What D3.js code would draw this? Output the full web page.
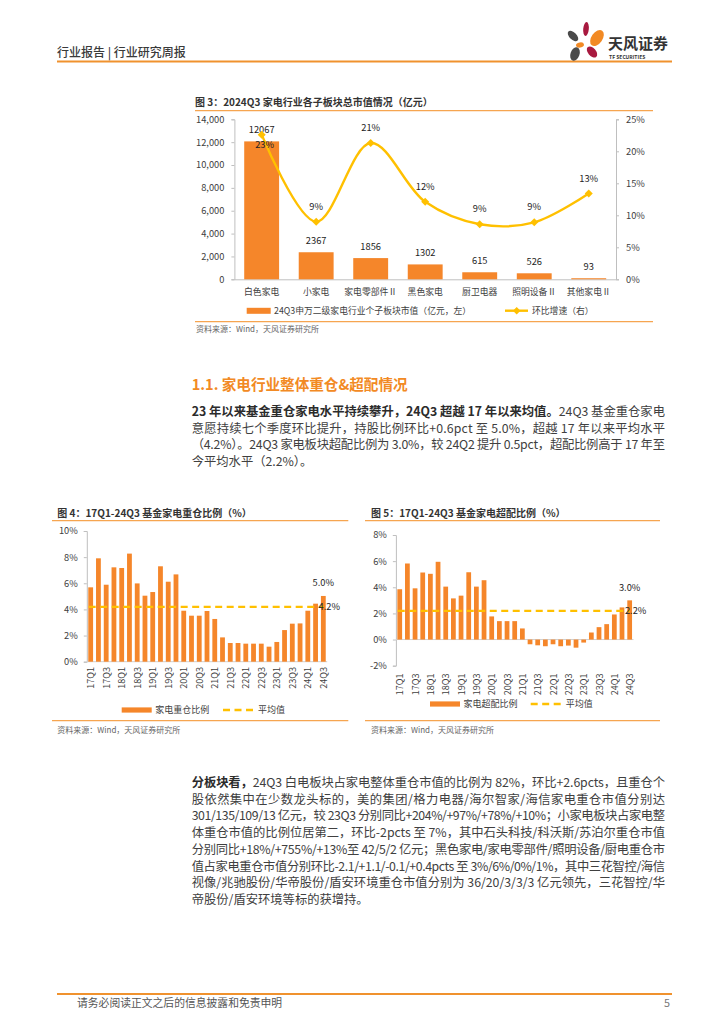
<!DOCTYPE html>
<html><head><meta charset="utf-8">
<script src="https://cdn.jsdelivr.net/npm/d3@7"></script>
<style>
body{margin:0;background:#fff;}
svg text{font-family:"Noto Sans CJK SC","Noto Sans",sans-serif;}
</style></head><body>
<svg id="page" width="724" height="1024"></svg>
<script>
// ---------- Figure 3 data ----------
const sectors = ["白色家电","小家电","家电零部件Ⅱ","黑色家电","厨卫电器","照明设备Ⅱ","其他家电Ⅱ"];
const marketCap = [12067,2367,1856,1302,615,526,93];
const qoqGrowth = [22.6,9.0,21.3,12.1,8.6,8.9,13.4];
const qoqLabels = ["23%","9%","21%","12%","9%","9%","13%"];
const capTicks = [0,2000,4000,6000,8000,10000,12000,14000];
const pctTicks = [0,5,10,15,20,25];

// ---------- Figure 4 / 5 data ----------
const quarters = ["17Q1","17Q2","17Q3","17Q4","18Q1","18Q2","18Q3","18Q4","19Q1","19Q2","19Q3","19Q4",
  "20Q1","20Q2","20Q3","20Q4","21Q1","21Q2","21Q3","21Q4","22Q1","22Q2","22Q3","22Q4",
  "23Q1","23Q2","23Q3","23Q4","24Q1","24Q2","24Q3"];
const heavyRatio = [5.69,7.91,5.89,7.22,7.17,8.27,5.99,5.05,5.33,7.30,6.12,6.68,
  3.90,3.52,3.52,3.88,3.27,1.86,1.43,1.43,1.38,1.38,1.38,1.15,
  1.51,2.42,2.91,2.93,3.90,4.44,5.03];
const heavyAvg = 4.2;
const heavyTicks = [0,2,4,6,8,10];
const overRatio = [3.85,5.82,3.92,5.13,5.03,5.95,4.05,3.15,3.36,5.15,4.05,4.54,
  1.77,1.41,1.41,1.41,0.85,-0.36,-0.44,-0.51,-0.36,-0.51,-0.46,-0.62,
  -0.23,0.54,0.95,1.18,1.92,2.46,3.0];
const overAvg = 2.2;
const overTicks = [-2,0,2,4,6,8];

// ---------- Text ----------
const para1 = [
  [["23 年以来基金重仓家电水平持续攀升，24Q3 超越 17 年以来均值。",true],["24Q3 基金重仓家电",false]],
  [["意愿持续七个季度环比提升，持股比例环比+0.6pct 至 5.0%，超越 17 年以来平均水平",false]],
  [["（4.2%）。24Q3 家电板块超配比例为 3.0%，较 24Q2 提升 0.5pct，超配比例高于 17 年至",false]],
  [["今平均水平（2.2%）。",false]]
];
const para2 = [
  [["分板块看，",true],["24Q3 白电板块占家电整体重仓市值的比例为 82%，环比+2.6pcts，且重仓个",false]],
  [["股依然集中在少数龙头标的，美的集团/格力电器/海尔智家/海信家电重仓市值分别达",false]],
  [["301/135/109/13 亿元，较 23Q3 分别同比+204%/+97%/+78%/+10%；小家电板块占家电整",false]],
  [["体重仓市值的比例位居第二，环比-2pcts 至 7%，其中石头科技/科沃斯/苏泊尔重仓市值",false]],
  [["分别同比+18%/+755%/+13%至 42/5/2 亿元；黑色家电/家电零部件/照明设备/厨电重仓市",false]],
  [["值占家电重仓市值分别环比-2.1/+1.1/-0.1/+0.4pcts 至 3%/6%/0%/1%，其中三花智控/海信",false]],
  [["视像/兆驰股份/华帝股份/盾安环境重仓市值分别为 36/20/3/3/3 亿元领先，三花智控/华",false]],
  [["帝股份/盾安环境等标的获增持。",false]]
];

const ORANGE = "#F28A24";
const BAR = "#F5862A";
const GOLD = "#FFC000";
const AXIS = "#BFBFBF";
const TXT = "#404040";

const svg = d3.select("#page");

// ---------- Header ----------
svg.append("text").attr("x",57).attr("y",56.5).attr("font-size",12).attr("font-weight",500)
  .attr("fill","#3a3a3a").text("行业报告 | 行业研究周报");
svg.append("line").attr("x1",57).attr("x2",672).attr("y1",61.5).attr("y2",61.5)
  .attr("stroke","#F0922E").attr("stroke-width",2);
// logo petals
const logo = svg.append("g");
const petals = [
  {cx:573,cy:36,rx:3.6,ry:6.5,r:-45,c:"#4a4a4a"},
  {cx:586,cy:29,rx:2.8,ry:7,r:5,c:"#A8193F"},
  {cx:597,cy:38,rx:5.5,ry:9,r:35,c:ORANGE},
  {cx:580,cy:45,rx:4,ry:2.6,r:-10,c:ORANGE},
  {cx:575,cy:54,rx:4.5,ry:7,r:20,c:"#4a4a4a"},
  {cx:592,cy:52,rx:4,ry:6.5,r:-40,c:"#A8193F"}
];
logo.selectAll("ellipse").data(petals).join("ellipse")
  .attr("transform",d=>`translate(${d.cx},${d.cy}) rotate(${d.r})`)
  .attr("rx",d=>d.rx).attr("ry",d=>d.ry).attr("fill",d=>d.c);
svg.append("text").attr("x",608).attr("y",49).attr("font-size",15).attr("font-weight",700)
  .attr("fill","#333").text("天风证券");
svg.append("text").attr("x",609).attr("y",58.5).attr("font-size",5).attr("font-weight",700)
  .attr("fill","#333").text("TF SECURITIES");

// ---------- Footer ----------
svg.append("line").attr("x1",57).attr("x2",672).attr("y1",994).attr("y2",994)
  .attr("stroke","#F0922E").attr("stroke-width",2.2);
svg.append("text").attr("x",77).attr("y",1007).attr("font-size",10.8).attr("fill","#555")
  .text("请务必阅读正文之后的信息披露和免责申明");
svg.append("text").attr("x",664).attr("y",1007).attr("font-size",10.8).attr("fill","#777").text("5");

// helper for separator lines
function sep(x1,x2,y){
  svg.append("line").attr("x1",x1).attr("x2",x2).attr("y1",y).attr("y2",y)
    .attr("stroke","#F6A550").attr("stroke-width",1.2);
}

// ---------- Figure 3 ----------
svg.append("text").attr("x",195).attr("y",106).attr("font-size",10).attr("font-weight",700)
  .attr("fill","#333").text("图 3：2024Q3 家电行业各子板块总市值情况（亿元）");
sep(195,653,110.7);
sep(195,653,321.7);
svg.append("text").attr("x",196).attr("y",332).attr("font-size",8).attr("fill","#666")
  .text("资料来源：Wind，天风证券研究所");

const x3 = d3.scaleBand().domain(sectors).range([234.4,616]).paddingInner(0.36).paddingOuter(0.18);
const yL = d3.scaleLinear().domain([0,14000]).range([279.3,119.3]);
const yR = d3.scaleLinear().domain([0,25]).range([279.3,119.3]);
const g3 = svg.append("g");

const axL = g3.append("g").attr("transform","translate(234.4,0)")
  .call(d3.axisLeft(yL).tickValues(capTicks).tickSize(3).tickPadding(7).tickFormat(d3.format(",")));
const axR = g3.append("g").attr("transform","translate(616,0)")
  .call(d3.axisRight(yR).tickValues(pctTicks).tickSize(3).tickPadding(7).tickFormat(d=>d+"%"));
const axB = g3.append("g").attr("transform","translate(0,279.3)")
  .call(d3.axisBottom(x3).tickSize(0).tickPadding(9));
[axL,axR,axB].forEach(a=>{
  a.selectAll("path,line").attr("stroke",AXIS);
  a.selectAll("text").attr("font-size",9.3).attr("fill",TXT).attr("font-family",'"Noto Sans CJK SC",sans-serif');
});
axB.selectAll("text").attr("font-size",8.8);

g3.selectAll("rect.bar").data(sectors).join("rect").attr("class","bar")
  .attr("x",d=>x3(d)).attr("width",x3.bandwidth())
  .attr("y",(d,i)=>yL(marketCap[i])).attr("height",(d,i)=>yL(0)-yL(marketCap[i]))
  .attr("fill",BAR);
g3.selectAll("text.bv").data(sectors).join("text").attr("class","bv")
  .attr("x",d=>x3(d)+x3.bandwidth()/2).attr("y",(d,i)=>yL(marketCap[i])-8)
  .attr("text-anchor","middle").attr("font-size",9.3).attr("fill","#222")
  .text((d,i)=>marketCap[i]);

const cx3 = d=>x3(d)+x3.bandwidth()/2;
const line3 = d3.line().x((d,i)=>cx3(sectors[i])).y(d=>yR(d)).curve(d3.curveCatmullRom.alpha(0.5));
g3.append("path").attr("d",line3(qoqGrowth)).attr("fill","none").attr("stroke",GOLD).attr("stroke-width",2.4);
g3.selectAll("path.dm").data(qoqGrowth).join("path").attr("class","dm")
  .attr("d",d3.symbol(d3.symbolSquare,32)())
  .attr("transform",(d,i)=>`translate(${cx3(sectors[i])},${yR(d)}) rotate(45)`)
  .attr("fill",GOLD);
g3.selectAll("text.lv").data(qoqGrowth).join("text").attr("class","lv")
  .attr("x",(d,i)=>cx3(sectors[i])+(i===0?3:0))
  .attr("y",(d,i)=>i===0?yR(d)+13:yR(d)-12)
  .attr("text-anchor","middle").attr("font-size",9.3).attr("fill","#222")
  .text((d,i)=>qoqLabels[i]);

// legend fig 3
svg.append("rect").attr("x",246.7).attr("y",307.8).attr("width",24).attr("height",6).attr("fill",BAR);
svg.append("text").attr("x",274).attr("y",314).attr("font-size",8.8).attr("fill",TXT)
  .text("24Q3申万二级家电行业个子板块市值（亿元，左）");
svg.append("line").attr("x1",505).attr("x2",528).attr("y1",310.7).attr("y2",310.7).attr("stroke",GOLD).attr("stroke-width",2.4);
svg.append("path").attr("d",d3.symbol(d3.symbolSquare,28)()).attr("transform","translate(516.7,310.7) rotate(45)").attr("fill",GOLD);
svg.append("text").attr("x",532).attr("y",314).attr("font-size",8.8).attr("fill",TXT).text("环比增速（右）");

// ---------- Section heading & paragraphs ----------
svg.append("text").attr("x",191.7).attr("y",389.5).attr("font-size",14.6).attr("font-weight",700)
  .attr("fill",ORANGE).text("1.1. 家电行业整体重仓&超配情况");

function paragraph(lines, y0, lh){
  lines.forEach((segs,i)=>{
    const t = svg.append("text").attr("x",191.7).attr("y",y0+i*lh).attr("font-size",12.3).attr("fill",TXT);
    if(i<lines.length-1) t.attr("textLength",473.3).attr("lengthAdjust","spacing");
    segs.forEach(s=>{
      t.append("tspan").attr("font-weight",s[1]?700:400).attr("fill",s[1]?"#2b2b2b":TXT).text(s[0]);
    });
  });
}
paragraph(para1,416,16.6);
paragraph(para2,787,16.7);

// ---------- Figure 4 / 5 generic ----------
function quarterChart(o){
  const g = svg.append("g");
  g.append("text").attr("x",o.tx).attr("y",517).attr("font-size",10).attr("font-weight",700)
    .attr("fill","#333").text(o.title);
  sep(o.l1,o.l2,520.7);
  sep(o.l1,o.l2,720.7);
  g.append("text").attr("x",o.tx).attr("y",733).attr("font-size",8).attr("fill","#666")
    .text("资料来源：Wind，天风证券研究所");
  const x = d3.scaleBand().domain(quarters).range(o.xr).paddingInner(0.38).paddingOuter(0.19);
  const y = d3.scaleLinear().domain(o.yd).range(o.yr);
  const ax = g.append("g").attr("transform",`translate(${o.xr[0]},0)`)
    .call(d3.axisLeft(y).tickValues(o.ticks).tickSize(3).tickPadding(6).tickFormat(d=>d+"%"));
  ax.selectAll("path,line").attr("stroke",AXIS);
  ax.selectAll("text").attr("font-size",9.3).attr("fill",TXT).attr("font-family",'"Noto Sans CJK SC",sans-serif');
  g.append("line").attr("x1",o.xr[0]).attr("x2",o.xr[1]).attr("y1",y(0)).attr("y2",y(0)).attr("stroke","#D0D0D0");
  g.selectAll("rect").data(quarters).join("rect")
    .attr("x",d=>x(d)).attr("width",x.bandwidth())
    .attr("y",(d,i)=>y(Math.max(0,o.vals[i])))
    .attr("height",(d,i)=>Math.abs(y(o.vals[i])-y(0)))
    .attr("fill",BAR);
  const c = d=>x(d)+x.bandwidth()/2;
  g.append("line").attr("x1",c(quarters[0])-2).attr("x2",c(quarters[quarters.length-1]))
    .attr("y1",y(o.avg)).attr("y2",y(o.avg)).attr("stroke",GOLD).attr("stroke-width",2.3)
    .attr("stroke-dasharray","7,4.5");
  // x labels
  g.selectAll("text.xl").data(quarters.filter((d,i)=>i%2===0)).join("text").attr("class","xl")
    .attr("transform",d=>`translate(${c(d)+0.5},${o.labTop}) rotate(-90)`)
    .attr("text-anchor","end").attr("dy","0.35em").attr("font-size",9).attr("fill",TXT).text(d=>d);
  const last = quarters[quarters.length-1], lv = o.vals[o.vals.length-1];
  g.append("text").attr("x",c(last)).attr("y",y(lv)-9.5).attr("text-anchor","middle")
    .attr("font-size",9.3).attr("fill","#222").text(o.lastLabel);
  g.append("text").attr("x",c(last)+6).attr("y",y(o.avg)+3.5).attr("text-anchor","middle")
    .attr("font-size",9.3).attr("fill","#222").text(o.avg.toFixed(1)+"%");
  // legend
  g.append("rect").attr("x",o.lg[0]).attr("y",o.lg[1]-2.6).attr("width",30).attr("height",5.2).attr("fill",BAR);
  g.append("text").attr("x",o.lg[0]+33.5).attr("y",o.lg[1]+3.3).attr("font-size",9).attr("fill",TXT).text(o.legend);
  g.append("line").attr("x1",o.lg[2]).attr("x2",o.lg[2]+31).attr("y1",o.lg[1]).attr("y2",o.lg[1])
    .attr("stroke",GOLD).attr("stroke-width",2.3).attr("stroke-dasharray","7,4.5");
  g.append("text").attr("x",o.lg[2]+35).attr("y",o.lg[1]+3.3).attr("font-size",9).attr("fill",TXT).text("平均值");
}

quarterChart({title:"图 4：17Q1-24Q3 基金家电重仓比例（%）",tx:57.3,l1:52,l2:348.3,
  xr:[86.8,327.2],yd:[0,10],yr:[661.7,531],ticks:heavyTicks,vals:heavyRatio,avg:heavyAvg,
  labTop:667,lastLabel:"5.0%",legend:"家电重仓比例",lg:[121.7,710,223]});
quarterChart({title:"图 5：17Q1-24Q3 基金家电超配比例（%）",tx:371,l1:365,l2:660,
  xr:[395.9,633.5],yd:[-2,8],yr:[665.7,535],ticks:overTicks,vals:overRatio,avg:overAvg,
  labTop:673.5,lastLabel:"3.0%",legend:"家电超配比例",lg:[430,704,530.7]});
</script>
</body></html>
